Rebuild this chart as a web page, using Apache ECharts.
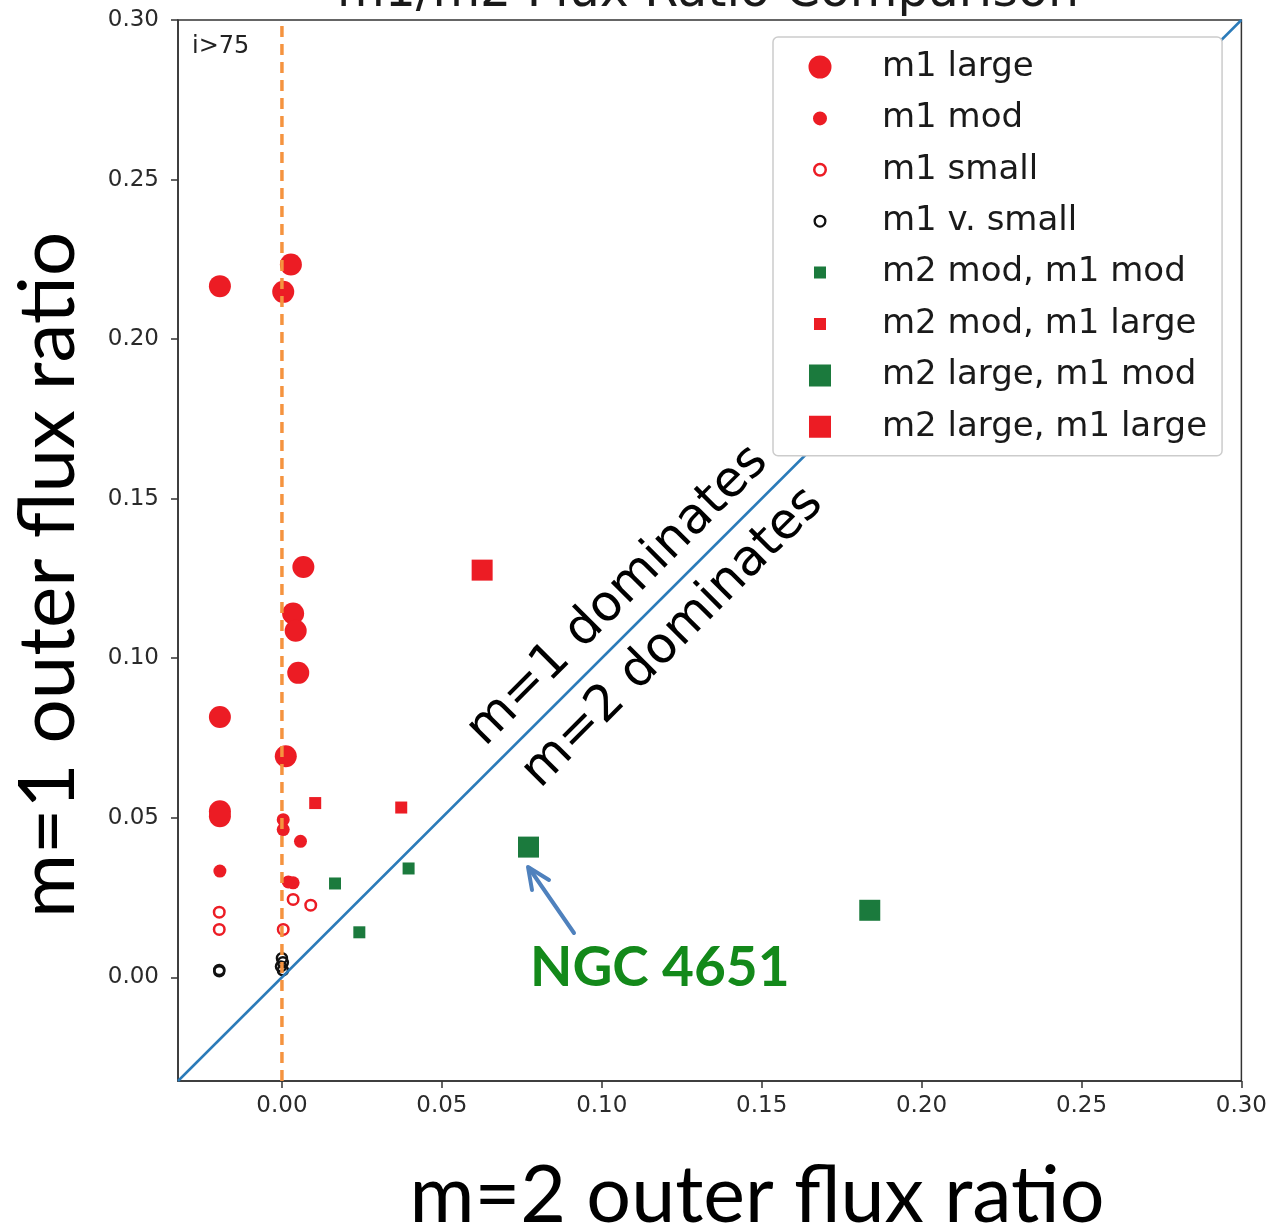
<!DOCTYPE html>
<html>
<head>
<meta charset="utf-8">
<script src="https://cdn.jsdelivr.net/npm/echarts@6/dist/echarts.min.js"></script>
<style>
  html, body { margin: 0; padding: 0; background: #fff; }
  #chart { width: 1270px; height: 1226px; }
</style>
</head>
<body>
<div id="chart"></div>
<script>
// Tick positions shared by both axes
const xTicks = [0, 0.05, 0.10, 0.15, 0.20, 0.25, 0.30];
const yTicks = [0, 0.05, 0.10, 0.15, 0.20, 0.25, 0.30];
const axisMin = -0.0325;
const axisMax = 0.30;

// [m=2 outer flux ratio, m=1 outer flux ratio]
const m1Large = [
  [-0.0194, 0.2166], [0.0028, 0.2234], [0.0004, 0.2148],
  [0.0067, 0.1286], [0.0035, 0.1140], [0.0043, 0.1086],
  [0.0051, 0.0954], [-0.0194, 0.0816], [0.0012, 0.0693],
  [-0.0194, 0.0520], [-0.0194, 0.0505]
];
const m1Mod = [
  [0.0004, 0.0494], [0.0004, 0.0463], [0.0058, 0.0426],
  [-0.0194, 0.0333], [0.0020, 0.0299], [0.0035, 0.0296]
];
const m1Small = [
  [-0.0196, 0.0204], [-0.0196, 0.0150], [0.0035, 0.0244],
  [0.0090, 0.0226], [0.0004, 0.0150]
];
const m1VSmall = [
  [-0.0196, 0.0019], [-0.0196, 0.0023],
  [0.0000, 0.0060], [0.0003, 0.0047], [-0.0003, 0.0034], [0.0003, 0.0022]
];
const m2ModM1Mod = [[0.0166, 0.0294], [0.0396, 0.0341], [0.0242, 0.0141]];
const m2ModM1Large = [[0.0104, 0.0546], [0.0373, 0.0532]];
const m2LargeM1Mod = [[0.0771, 0.0408], [0.1838, 0.0210]];
const m2LargeM1Large = [[0.0626, 0.1276]];

// Reference lines: equality diagonal and the x = 0 marker
const diagLine = [[axisMin, axisMin], [axisMax, axisMax]];
const zeroLine = [[0, axisMin], [0, axisMax]];

const RED = '#ec1c24';
const GREEN = '#1b7a3d';
const BLACK = '#111111';

// Legend icons drawn inside a fixed 24x24 box so their sizes differ
const BOX = 24;
const frame = 'M0 0 L0.001 0 M24 24 L24.001 24 ';
function disc(R) {
  const c = BOX / 2;
  return 'path://' + frame +
    `M${c - R} ${c} A${R} ${R} 0 1 0 ${c + R} ${c} A${R} ${R} 0 1 0 ${c - R} ${c} Z`;
}
function ring(R, r) {
  const c = BOX / 2;
  return 'path://' + frame +
    `M${c - R} ${c} A${R} ${R} 0 1 0 ${c + R} ${c} A${R} ${R} 0 1 0 ${c - R} ${c} Z ` +
    `M${c - r} ${c} A${r} ${r} 0 1 1 ${c + r} ${c} A${r} ${r} 0 1 1 ${c - r} ${c} Z`;
}
function square(a) {
  const lo = (BOX - a) / 2, hi = (BOX + a) / 2;
  return 'path://' + frame + `M${lo} ${lo} L${hi} ${lo} L${hi} ${hi} L${lo} ${hi} Z`;
}

const chart = echarts.init(document.getElementById('chart'), null, { renderer: 'canvas' });

const tickFont = { fontFamily: 'DejaVu Sans', fontSize: 23, color: '#2a2a2a' };

function scatter(name, data, symbol, size, style) {
  return {
    name, type: 'scatter', data, symbol, symbolSize: size,
    itemStyle: Object.assign({ opacity: 1 }, style), z: 2, silent: true, animation: false
  };
}

const legendItem = (name, icon, color) => ({
  name, icon, itemStyle: { color, opacity: 1, borderWidth: 0, borderColor: 'transparent' }
});

chart.setOption({
  backgroundColor: '#fff',
  animation: false,
  grid: {
    left: 178, top: 20, right: 28, height: 1061,
    show: true, borderColor: '#333', borderWidth: 1.5, backgroundColor: 'transparent'
  },
  xAxis: {
    type: 'value', min: axisMin, max: axisMax,
    axisLine: { show: true, onZero: false, lineStyle: { color: '#333', width: 1.5 } },
    axisTick: { show: true, customValues: xTicks, length: 7, lineStyle: { color: '#333', width: 1.5 } },
    axisLabel: Object.assign({ customValues: xTicks, margin: 14, formatter: v => v.toFixed(2) }, tickFont),
    splitLine: { show: false }
  },
  yAxis: {
    type: 'value', min: axisMin, max: axisMax,
    axisLine: { show: true, onZero: false, lineStyle: { color: '#333', width: 1.5 } },
    axisTick: { show: true, customValues: yTicks, length: 7, lineStyle: { color: '#333', width: 1.5 } },
    axisLabel: Object.assign({ customValues: yTicks, margin: 19, formatter: v => v.toFixed(2) }, tickFont),
    splitLine: { show: false }
  },
  legend: {
    orient: 'vertical', left: 773, top: 37,
    padding: [13, 15, 12, 35],
    itemWidth: BOX, itemHeight: BOX, itemGap: 17.4,
    selectedMode: false,
    backgroundColor: '#fff', borderColor: '#cccccc', borderWidth: 1.5, borderRadius: 5,
    textStyle: { fontFamily: 'DejaVu Sans', fontSize: 34, color: '#1a1a1a', lineHeight: 32, padding: [0, 0, 0, 45] },
    data: [
      legendItem('m1 large', disc(11.5), RED),
      legendItem('m1 mod', disc(7), RED),
      legendItem('m1 small', ring(7, 4.5), RED),
      legendItem('m1 v. small', ring(6.5, 4.2), BLACK),
      legendItem('m2 mod, m1 mod', square(12), GREEN),
      legendItem('m2 mod, m1 large', square(12), RED),
      legendItem('m2 large, m1 mod', square(22), GREEN),
      legendItem('m2 large, m1 large', square(22), RED)
    ],
    z: 10
  },
  series: [
    scatter('m1 large', m1Large, 'circle', 22, { color: RED }),
    scatter('m1 mod', m1Mod, 'circle', 13, { color: RED }),
    scatter('m1 small', m1Small, 'circle', 10.5, { color: 'rgba(0,0,0,0)', borderColor: RED, borderWidth: 2.5 }),
    scatter('m1 v. small', m1VSmall, 'circle', 10, { color: 'rgba(0,0,0,0)', borderColor: BLACK, borderWidth: 2.5 }),
    scatter('m2 mod, m1 mod', m2ModM1Mod, 'rect', 12, { color: GREEN }),
    scatter('m2 mod, m1 large', m2ModM1Large, 'rect', 12, { color: RED }),
    scatter('m2 large, m1 mod', m2LargeM1Mod, 'rect', 21, { color: GREEN }),
    scatter('m2 large, m1 large', m2LargeM1Large, 'rect', 21, { color: RED }),
    {
      name: 'equality', type: 'line', data: diagLine, symbol: 'none', z: 3, silent: true,
      lineStyle: { color: '#2b7bb9', width: 2.5 }
    },
    {
      name: 'zero', type: 'line', data: zeroLine, symbol: 'none', z: 3, silent: true,
      lineStyle: { color: '#f5933f', width: 3.5, type: [11, 7] }
    }
  ],
  graphic: [
    {
      type: 'text', x: 708, y: 18, z: 100,
      style: { text: 'm1/m2 Flux Ratio Comparison', font: '49px "DejaVu Sans"', fill: '#1a1a1a', textAlign: 'center', textVerticalAlign: 'bottom' }
    },
    {
      type: 'text', x: 192, y: 47, z: 100,
      style: { text: 'i>75', font: '24px "DejaVu Sans"', fill: '#222', textAlign: 'left', textVerticalAlign: 'middle' }
    },
    {
      type: 'text', x: 618, y: 596, rotation: Math.PI / 4, z: 100,
      style: { text: 'm=1 dominates', font: '50px "DejaVu Sans"', fill: '#000', textAlign: 'center', textVerticalAlign: 'middle' }
    },
    {
      type: 'text', x: 673, y: 638, rotation: Math.PI / 4, z: 100,
      style: { text: 'm=2 dominates', font: '50px "DejaVu Sans"', fill: '#000', textAlign: 'center', textVerticalAlign: 'middle' }
    },
    {
      type: 'text', x: 49, y: 575, rotation: Math.PI / 2, z: 100,
      style: { text: 'm=1 outer flux ratio', font: '78px Lato', fill: '#000', textAlign: 'center', textVerticalAlign: 'middle' }
    },
    {
      type: 'text', x: 757, y: 1197, z: 100,
      style: { text: 'm=2 outer flux ratio', font: '79px Lato', fill: '#000', textAlign: 'center', textVerticalAlign: 'middle' }
    },
    {
      type: 'text', x: 530, y: 968, z: 100,
      style: { text: 'NGC 4651', font: 'bold 55px Lato', fill: '#13891a', textAlign: 'left', textVerticalAlign: 'middle' }
    },
    {
      type: 'polyline', z: 100,
      shape: { points: [[574, 933], [529, 868]] },
      style: { stroke: '#4f81bd', lineWidth: 4, lineCap: 'round', fill: null }
    },
    {
      type: 'polyline', z: 100,
      shape: { points: [[532, 890], [528, 867], [549, 880]] },
      style: { stroke: '#4f81bd', lineWidth: 4, lineCap: 'round', lineJoin: 'round', fill: null }
    }
  ]
});
</script>
</body>
</html>
